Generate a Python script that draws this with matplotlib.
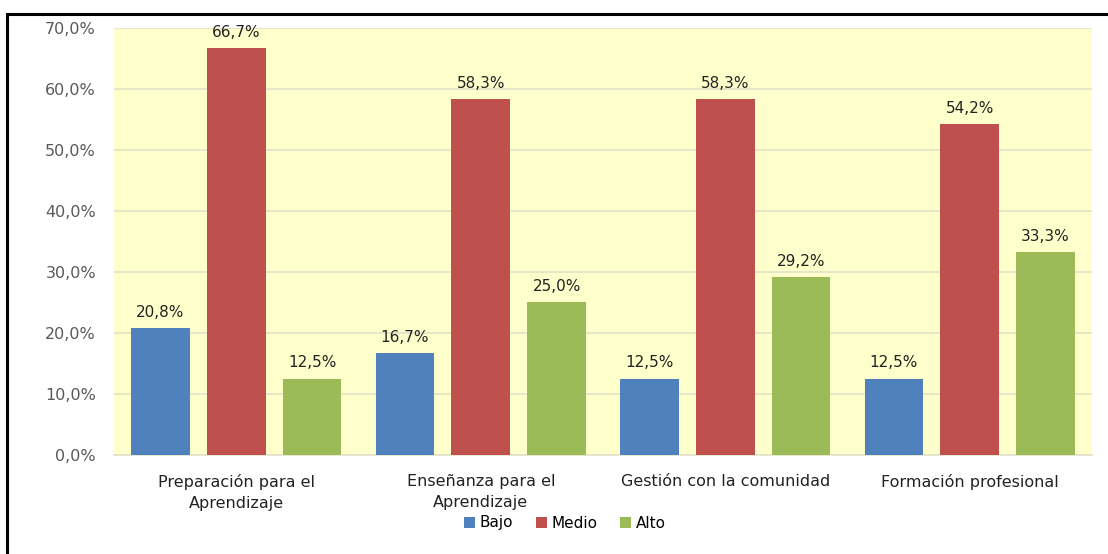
import matplotlib.pyplot as plt
from matplotlib.patches import Rectangle
import numpy as np

categories = ["Preparación para el\nAprendizaje", "Enseñanza para el\nAprendizaje",
              "Gestión con la comunidad", "Formación profesional"]
series_names = ["Bajo", "Medio", "Alto"]
bajo = [20.8, 16.7, 12.5, 12.5]
medio = [66.7, 58.3, 58.3, 54.2]
alto = [12.5, 25.0, 29.2, 33.3]
y_ticks = [0, 10, 20, 30, 40, 50, 60, 70]

colors = ["#4F81BD", "#C0504D", "#9BBB59"]

plt.rcParams['font.family'] = ['DejaVu Sans']

fig = plt.figure(figsize=(11.08, 5.54), dpi=100)
ax = fig.add_axes([0.1029, 0.1787, 0.8827, 0.7708])
ax.set_facecolor("#FFFFCC")

# outer frame (top and left edges visible)
fig.patches.append(Rectangle((7 / 1108, -0.05), 1.2, 1 - 14 / 554 + 0.05,
                             transform=fig.transFigure, fill=False,
                             edgecolor="black", linewidth=2.2, zorder=0))

x = np.arange(len(categories))
offset = 0.31
width = 0.24

for i, (name, vals) in enumerate(zip(series_names, [bajo, medio, alto])):
    pos = x + (i - 1) * offset
    bars = ax.bar(pos, vals, width=width, color=colors[i], label=name, zorder=3)
    for b, v in zip(bars, vals):
        ax.annotate(f"{v:.1f}%".replace(".", ","),
                    (b.get_x() + b.get_width() / 2, v),
                    xytext=(0, 6), textcoords="offset points",
                    ha="center", va="bottom", fontsize=11, color="#222222")

ax.set_xlim(-0.5, len(categories) - 0.5)
ax.set_ylim(0, 70)
ax.set_yticks(y_ticks)
ax.set_yticklabels([f"{t:.1f}%".replace(".", ",") for t in y_ticks],
                   fontsize=11.5, color="#595959")
ax.yaxis.grid(True, color="#E3E3C8", linewidth=1.2, zorder=0)
ax.set_axisbelow(True)
ax.tick_params(axis="y", length=0, pad=13)
ax.tick_params(axis="x", length=0, pad=14)
ax.set_xticks(x)
ax.set_xticklabels(categories, fontsize=11.5, color="#222222", linespacing=1.45)

for s in ["top", "right", "left"]:
    ax.spines[s].set_visible(False)
ax.spines["bottom"].set_color("#E3E3C8")
ax.spines["bottom"].set_linewidth(1.2)

fig.legend(loc="center", bbox_to_anchor=(565 / 1108, 1 - 523 / 554), ncol=3,
           frameon=False, fontsize=11, handlelength=0.7, handleheight=0.7,
           handletextpad=0.3, columnspacing=1.5, borderpad=0)

fig.savefig("out.png", dpi=100, facecolor="white")
